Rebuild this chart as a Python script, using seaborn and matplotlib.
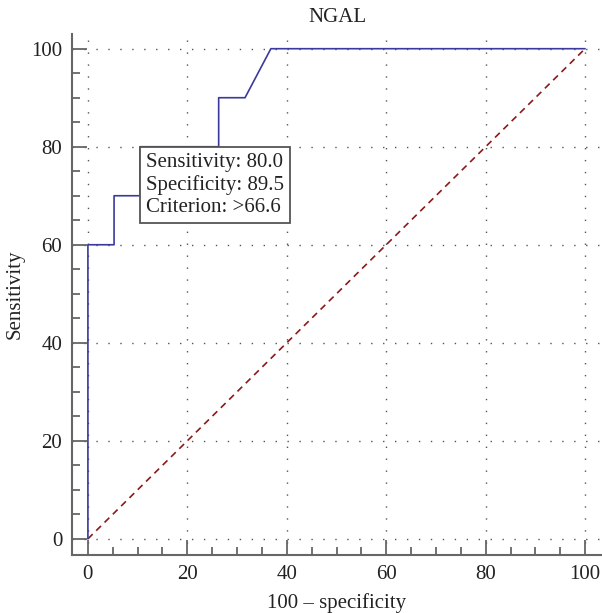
import matplotlib
matplotlib.use("Agg")
import numpy as np
import pandas as pd
import seaborn as sns
import matplotlib.pyplot as plt
from matplotlib.ticker import MultipleLocator

# ROC curve points for NGAL (100 - specificity, sensitivity)
fpr = [0, 0, 5.26, 5.26, 10.5, 10.5, 26.3, 26.3, 31.6, 36.8, 100]
tpr = [0, 60, 60, 70, 70, 80, 80, 90, 90, 100, 100]
ref_x = [0, 100]
ref_y = [0, 100]
cut_x, cut_y = 10.5, 80
box_lines = ["Sensitivity: 80.0", "Specificity: 89.5", "Criterion: >66.6"]

sns.set_style("white")
plt.rcParams["font.family"] = ["Liberation Serif", "DejaVu Serif"]

fig = plt.figure(figsize=(6.02, 6.13), dpi=100)
ax = fig.add_axes([72 / 602, 58 / 613, 530 / 602, 521 / 613])

roc = pd.DataFrame({"fpr": fpr, "tpr": tpr})
diag = pd.DataFrame({"x": ref_x, "y": ref_y})
sns.lineplot(data=roc, x="fpr", y="tpr", sort=False, estimator=None,
             color="#3a3a9c", linewidth=1.2, ax=ax, zorder=3)
sns.lineplot(data=diag, x="x", y="y", sort=False, estimator=None,
             color="#8b1a1a", linewidth=1.2, linestyle=(0, (4, 3)), ax=ax, zorder=2)

ax.set_xlim(-3.2, 103.4)
ax.set_ylim(-3.3, 103)
ax.xaxis.set_major_locator(MultipleLocator(20))
ax.yaxis.set_major_locator(MultipleLocator(20))
ax.xaxis.set_minor_locator(MultipleLocator(5))
ax.yaxis.set_minor_locator(MultipleLocator(5))

ax.grid(True, which="major", color="#555555", linestyle=(0, (1.0, 7.6)), linewidth=1.0)
for side in ["top", "right"]:
    ax.spines[side].set_visible(False)
for side in ["left", "bottom"]:
    ax.spines[side].set_color("#666666")
    ax.spines[side].set_linewidth(1.5)

ax.tick_params(which="both", bottom=True, left=True, top=False, right=False)
ax.tick_params(which="major", direction="in", length=11, width=1.3, color="#666666",
               labelsize=15, labelcolor="#222222", pad=7)
ax.tick_params(which="minor", direction="in", length=5.5, width=1.3, color="#666666")

ax.set_title("NGAL", fontsize=15, color="#222222", pad=9)
ax.set_xlabel("100 – specificity", fontsize=15, color="#222222", labelpad=7)
ax.set_ylabel("Sensitivity", fontsize=15, color="#222222", labelpad=5)

ax.annotate("\n".join(box_lines), xy=(cut_x, cut_y), xytext=(4.4, -4.6),
            textcoords="offset points", ha="left", va="top", fontsize=15,
            color="#222222", linespacing=1.2, zorder=5,
            bbox=dict(boxstyle="square,pad=0.3", facecolor="white",
                      edgecolor="#555555", linewidth=1.3))

fig.savefig("out.png", dpi=100)
